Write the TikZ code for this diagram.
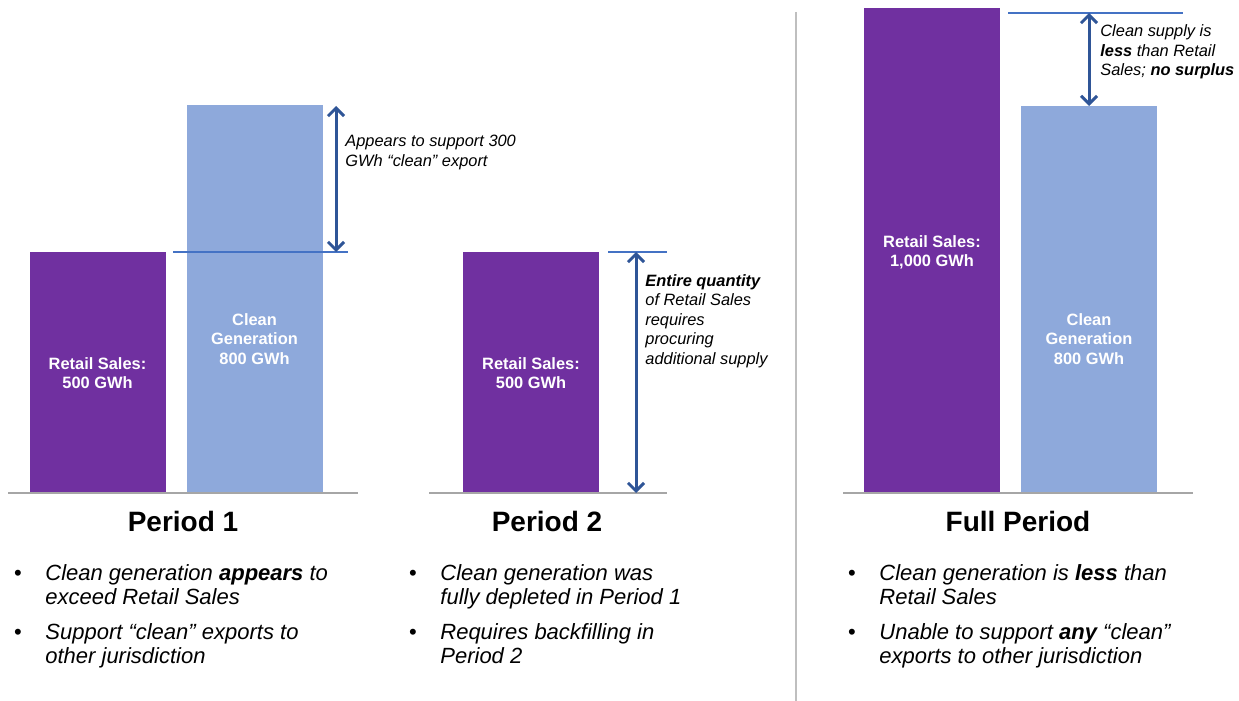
\documentclass[tikz,border=0pt]{standalone}
\usepackage{fontspec}
\setmainfont{Liberation Sans}
\usetikzlibrary{arrows.meta, positioning}

\definecolor{retailpurple}{HTML}{7030A0}
\definecolor{cleanblue}{HTML}{8EA9DB}
\definecolor{arrowblue}{HTML}{2F5597}
\definecolor{refblue}{HTML}{4472C4}
\definecolor{axisgray}{HTML}{A6A6A6}
\definecolor{dividergray}{HTML}{BFBFBF}

\begin{document}
\begin{tikzpicture}[x=0.5pt, y=-0.5pt,
    bar/.style={rectangle, inner sep=0pt, minimum width=68pt, anchor=south west},
    retailbar/.style={bar, fill=retailpurple},
    cleanbar/.style={bar, fill=cleanblue},
    barlabel/.style={text=white, align=center, inner sep=0pt, font=\fontsize{8.2}{9.6}\selectfont\bfseries},
    note/.style={anchor=west, align=left, inner sep=0pt, font=\fontsize{8.2}{9.8}\selectfont\itshape},
    gap/.style={draw=arrowblue, line width=1.5pt, {Straight Barb[length=4pt,width=8pt]}-{Straight Barb[length=4pt,width=8pt]}},
    refline/.style={draw=refblue, line width=0.6pt},
    groundline/.style={draw=axisgray, line width=0.8pt},
    periodtitle/.style={inner sep=0pt, font=\fontsize{14}{16}\selectfont\bfseries},
    dot/.style={anchor=north, inner sep=0pt, font=\fontsize{11}{12}\selectfont},
    bulletitem/.style={anchor=north west, align=left, inner sep=0pt, font=\fontsize{11}{12}\selectfont\itshape}
]
    \useasboundingbox (0,0) rectangle (1239,701);

    % Period 1
    \node[retailbar, minimum height=120.5pt] (rs1) at (30,493) {};
    \node[cleanbar, minimum height=194pt] (cg1) at (187,493) {};
    \node[barlabel] (rs1label) at (97.5,373) {Retail Sales:\\500 GWh};
    \node[barlabel] (cg1label) at (254.5,339) {Clean\\Generation\\800 GWh};
    \coordinate (g1a) at (8,493);
    \coordinate (g1b) at (358,493);
    \draw[groundline] (g1a) -- (g1b);
    \coordinate (r1a) at (173,252);
    \coordinate (r1b) at (348,252);
    \draw[refline] (r1a) -- (r1b);
    \coordinate (a1top) at (336,106);
    \coordinate (a1bot) at (336,252);
    \draw[gap] (a1top) -- (a1bot);
    \node[note] (note1) at (345,152.5) {Appears to support 300\\GWh “clean” export};

    % Period 2
    \node[retailbar, minimum height=120.5pt] (rs2) at (463,493) {};
    \node[barlabel] (rs2label) at (531,373) {Retail Sales:\\500 GWh};
    \coordinate (g2a) at (429,493);
    \coordinate (g2b) at (667,493);
    \draw[groundline] (g2a) -- (g2b);
    \coordinate (r2a) at (608,252);
    \coordinate (r2b) at (667,252);
    \draw[refline] (r2a) -- (r2b);
    \coordinate (a2top) at (636,252);
    \coordinate (a2bot) at (636,493);
    \draw[gap] (a2top) -- (a2bot);
    \node[note] (note2) at (645,321) {\textbf{Entire quantity}\\of Retail Sales\\requires\\procuring\\additional supply};

    % divider
    \coordinate (divtop) at (796,12);
    \coordinate (divbot) at (796,701);
    \draw[dividergray, line width=0.8pt] (divtop) -- (divbot);

    % Full period
    \node[retailbar, minimum height=242.5pt] (rs3) at (864,493) {};
    \node[cleanbar, minimum height=193.5pt] (cg3) at (1021,493) {};
    \node[barlabel] (rs3label) at (932,252) {Retail Sales:\\1,000 GWh};
    \node[barlabel] (cg3label) at (1089,339) {Clean\\Generation\\800 GWh};
    \coordinate (g3a) at (843,493);
    \coordinate (g3b) at (1193,493);
    \draw[groundline] (g3a) -- (g3b);
    \coordinate (r3a) at (1008,13);
    \coordinate (r3b) at (1183,13);
    \draw[refline] (r3a) -- (r3b);
    \coordinate (a3top) at (1089,13);
    \coordinate (a3bot) at (1089,106);
    \draw[gap] (a3top) -- (a3bot);
    \node[note] (note3) at (1100,52) {Clean supply is\\\textbf{less} than Retail\\Sales; \textbf{no surplus}};

    % titles
    \node[periodtitle] (t1) at (183,521) {Period 1};
    \node[periodtitle] (t2) at (547,521) {Period 2};
    \node[periodtitle] (t3) at (1018,521) {Full Period};

    % bullets
    \node[dot] (b11) at (18,563) {\strut•};
    \node[bulletitem] (i11) at (45,563) {\strut Clean generation \textbf{appears} to\\exceed Retail Sales};
    \node[dot] (b12) at (18,622) {\strut•};
    \node[bulletitem] (i12) at (45,622) {\strut Support “clean” exports to\\other jurisdiction};
    \node[dot] (b21) at (413,563) {\strut•};
    \node[bulletitem] (i21) at (440,563) {\strut Clean generation was\\fully depleted in Period 1};
    \node[dot] (b22) at (413,622) {\strut•};
    \node[bulletitem] (i22) at (440,622) {\strut Requires backfilling in\\Period 2};
    \node[dot] (b31) at (852,563) {\strut•};
    \node[bulletitem] (i31) at (879,563) {\strut Clean generation is \textbf{less} than\\Retail Sales};
    \node[dot] (b32) at (852,622) {\strut•};
    \node[bulletitem] (i32) at (879,622) {\strut Unable to support \textbf{any} “clean”\\exports to other jurisdiction};
\end{tikzpicture}
\end{document}
